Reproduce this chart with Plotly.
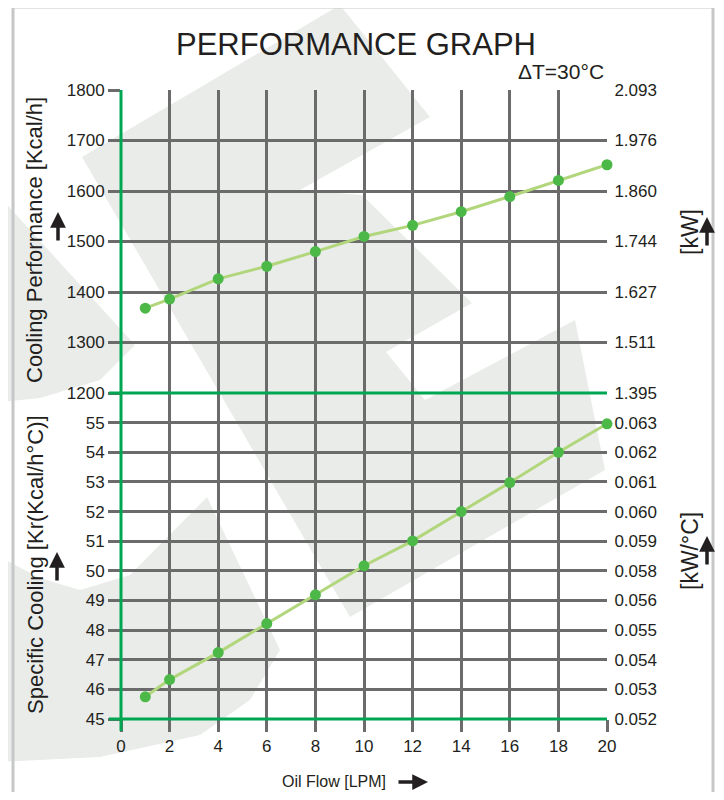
import plotly.graph_objects as go

# ---------------- data ----------------
flow = [1, 2, 4, 6, 8, 10, 12, 14, 16, 18, 20]
cooling_kcal = [1368, 1386, 1426, 1451, 1480, 1510, 1532, 1559, 1589, 1621, 1652]
specific_kr = [45.75, 46.33, 47.24, 48.22, 49.19, 50.17, 51.01, 52.0, 52.98, 54.0, 54.96]

x_ticks = [0, 2, 4, 6, 8, 10, 12, 14, 16, 18, 20]
cool_ticks = [1200, 1300, 1400, 1500, 1600, 1700, 1800]
kw_labels = ["1.395", "1.511", "1.627", "1.744", "1.860", "1.976", "2.093"]
spec_ticks = [45, 46, 47, 48, 49, 50, 51, 52, 53, 54, 55]
kwc_labels = ["0.052", "0.053", "0.054", "0.055", "0.056", "0.058",
              "0.059", "0.060", "0.061", "0.062", "0.063"]

# ---------------- layout geometry (page pixels) ----------------
OFF = 8                      # default body margin of the html page
W, H = 724 - 2 * OFF, 800 - 2 * OFF
L, R, T, B = 121, 607, 90, 719   # plot area in page pixels
SPLIT = 393                      # page y of the panel boundary


def px(x):
    return (x - L) / (R - L)


def py(y):
    return (B - y) / (B - T)


GRID = "#6b6b6b"
GREEN = "#00a651"
TXT = "#231f20"
WM = "#e9ece9"
REG = "Liberation Sans, Arial, sans-serif"

split_dom = py(SPLIT)

fig = go.Figure()
fig.add_trace(go.Scatter(
    x=flow, y=cooling_kcal, xaxis="x", yaxis="y", mode="lines+markers",
    line=dict(color="#b2d67c", width=3),
    marker=dict(color="#4cb848", size=11), cliponaxis=False, showlegend=False))
fig.add_trace(go.Scatter(
    x=flow, y=specific_kr, xaxis="x2", yaxis="y2", mode="lines+markers",
    line=dict(color="#b2d67c", width=3),
    marker=dict(color="#4cb848", size=11), cliponaxis=False, showlegend=False))
fig.add_trace(go.Scatter(x=[0], y=[1200], xaxis="x", yaxis="y3", mode="markers",
                         marker=dict(opacity=0), showlegend=False, hoverinfo="skip"))
fig.add_trace(go.Scatter(x=[0], y=[45], xaxis="x2", yaxis="y4", mode="markers",
                         marker=dict(opacity=0), showlegend=False, hoverinfo="skip"))

tickfont = dict(family=REG, size=17, color=TXT)

fig.update_layout(
    width=W, height=H,
    margin=dict(l=L - OFF, r=W - (R - OFF), t=T - OFF, b=H - (B - OFF), pad=0),
    paper_bgcolor="white", plot_bgcolor="rgba(0,0,0,0)",
    showlegend=False,
    xaxis=dict(domain=[0, 1], anchor="y", range=[0, 20], tickvals=x_ticks,
               showticklabels=False, ticks="", showgrid=True, gridcolor=GRID,
               gridwidth=2.5, zeroline=False, showline=False),
    xaxis2=dict(domain=[0, 1], anchor="y2", range=[0, 20], tickvals=x_ticks,
                ticks="outside", ticklen=12, tickwidth=3, tickcolor=GRID,
                tickfont=tickfont, showgrid=True, gridcolor=GRID, gridwidth=2.5,
                zeroline=False, showline=False),
    yaxis=dict(domain=[split_dom, 1], anchor="x", range=[1200, 1800],
               tickvals=cool_ticks, ticks="outside", ticklen=12, tickwidth=3,
               tickcolor=GRID, tickfont=tickfont, showgrid=True, gridcolor=GRID,
               gridwidth=2.5, zeroline=False, showline=False),
    yaxis2=dict(domain=[0, split_dom], anchor="x2", range=[45, 56],
                tickvals=spec_ticks, ticks="outside", ticklen=12, tickwidth=3,
                tickcolor=GRID, tickfont=tickfont, showgrid=True, gridcolor=GRID,
                gridwidth=2.5, zeroline=False, showline=False),
    yaxis3=dict(overlaying="y", side="right", anchor="x", range=[1200, 1800],
                tickvals=cool_ticks, ticktext=kw_labels, ticks="outside",
                ticklen=3, tickcolor="rgba(0,0,0,0)",
                tickfont=tickfont, showgrid=False, zeroline=False, showline=False),
    yaxis4=dict(overlaying="y2", side="right", anchor="x2", range=[45, 56],
                tickvals=spec_ticks, ticktext=kwc_labels, ticks="outside",
                ticklen=3, tickcolor="rgba(0,0,0,0)",
                tickfont=tickfont, showgrid=False, zeroline=False, showline=False),
)

shapes = []


def poly(pts, color=WM):
    d = "M " + " L ".join(f"{px(x):.4f},{py(y):.4f}" for x, y in pts) + " Z"
    return dict(type="path", path=d, xref="paper", yref="paper",
                fillcolor=color, line=dict(width=0), layer="below")


# watermark (decorative logo)
shapes.append(poly([(82, 157), (340, 5), (430, 117), (300, 190), (362, 195),
                    (472, 303), (386, 352), (425, 400), (575, 320), (605, 470),
                    (350, 617)]))
shapes.append(poly([(0, 557), (40, 578), (80, 590), (130, 575), (207, 497),
                    (280, 650), (250, 700), (200, 735), (100, 757), (0, 762)]))
shapes.append(poly([(0, 197), (135, 345), (100, 380), (40, 398), (0, 402)]))

# frame
shapes.append(dict(type="path",
                   path=f"M {px(13):.4f},{py(812):.4f} L {px(13):.4f},{py(7):.4f} "
                        f"L {px(713):.4f},{py(7):.4f} L {px(713):.4f},{py(812):.4f}",
                   xref="paper", yref="paper", line=dict(color="#c6c7c8", width=3),
                   layer="below"))

# green lines
shapes.append(dict(type="line", xref="paper", yref="paper",
                   x0=px(121), x1=px(121), y0=py(731), y1=py(90),
                   line=dict(color=GREEN, width=3), layer="above"))
shapes.append(dict(type="line", xref="paper", yref="paper",
                   x0=px(109), x1=px(607), y0=py(SPLIT), y1=py(SPLIT),
                   line=dict(color=GREEN, width=3), layer="above"))
shapes.append(dict(type="line", xref="paper", yref="paper",
                   x0=px(109), x1=px(607), y0=py(719), y1=py(719),
                   line=dict(color=GREEN, width=3), layer="above"))
fig.update_layout(shapes=shapes)

ann = []
ann.append(dict(text="PERFORMANCE GRAPH", x=px(356), y=py(44), xref="paper", yref="paper",
                showarrow=False, xanchor="center", yanchor="middle",
                font=dict(family=REG, size=31, color=TXT)))
ann.append(dict(text="ΔT=30°C", x=px(606), y=py(71), xref="paper", yref="paper",
                showarrow=False, xanchor="right", yanchor="middle",
                font=dict(family=REG, size=21, color=TXT)))
ann.append(dict(text="Cooling Performance [Kcal/h]", x=px(35), y=py(240), xref="paper",
                yref="paper", showarrow=False, textangle=-90, xanchor="center",
                yanchor="middle", font=dict(family=REG, size=22, color=TXT)))
ann.append(dict(text="Specific Cooling [Kr(Kcal/h°C)]", x=px(35), y=py(565), xref="paper",
                yref="paper", showarrow=False, textangle=-90, xanchor="center",
                yanchor="middle", font=dict(family=REG, size=22, color=TXT)))
ann.append(dict(text="[kW]", x=px(690), y=py(232), xref="paper", yref="paper",
                showarrow=False, textangle=-90, xanchor="center", yanchor="middle",
                font=dict(family=REG, size=23, color=TXT)))
ann.append(dict(text="[kW/°C]", x=px(690), y=py(551), xref="paper", yref="paper",
                showarrow=False, textangle=-90, xanchor="center", yanchor="middle",
                font=dict(family=REG, size=23, color=TXT)))
ann.append(dict(text="Oil Flow [LPM]", x=px(334), y=py(781), xref="paper", yref="paper",
                showarrow=False, xanchor="center", yanchor="middle",
                font=dict(family=REG, size=16, color=TXT)))

# arrows
for (x0, y0, x1, y1) in [(58, 242, 58, 212), (57, 582, 57, 552),
                         (707, 247, 707, 217), (707, 566, 707, 536),
                         (397, 782, 428, 782)]:
    ann.append(dict(text="", x=px(x1), y=py(y1), xref="paper", yref="paper",
                    ax=x0 - x1, ay=y0 - y1, axref="pixel", ayref="pixel",
                    showarrow=True, arrowhead=2, arrowsize=0.9, arrowwidth=3.5,
                    arrowcolor=TXT))
fig.update_layout(annotations=ann)

fig.write_html("out.html")
